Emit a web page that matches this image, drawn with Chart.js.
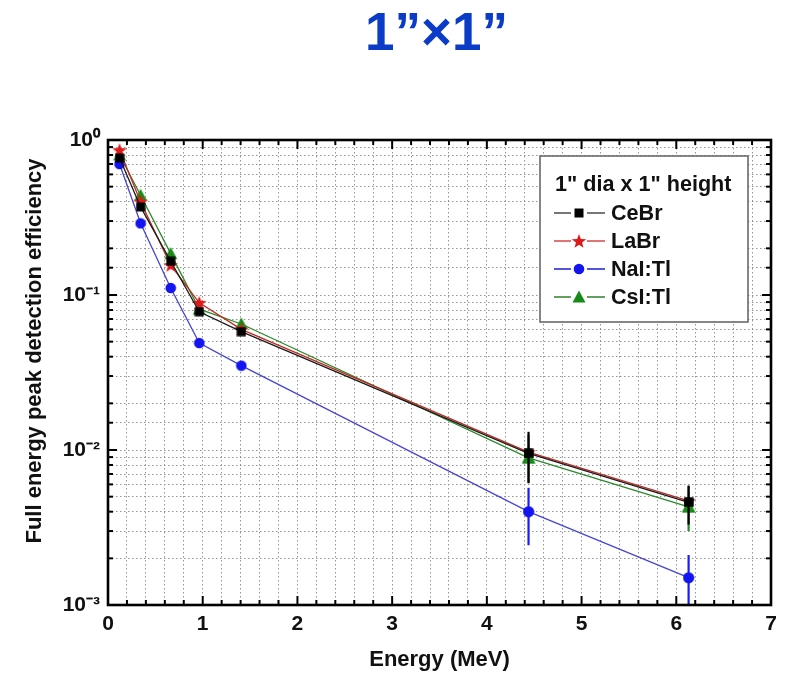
<!DOCTYPE html>
<html><head><meta charset="utf-8">
<script src="https://cdn.jsdelivr.net/npm/chart.js@4/dist/chart.umd.min.js"></script>
<style>html,body{margin:0;padding:0;background:#fff}#wrap{width:788px;height:674px}</style>
</head><body><div id="wrap"><canvas id="c" width="788" height="674"></canvas></div>
<script>
// ---------- data ----------
const chartTitle = '1\u201D\u00D71\u201D';
const legendTitle = '1" dia x 1" height';
const xAxisTitle = 'Energy (MeV)';
const yAxisTitle = 'Full energy peak detection efficiency';
const energies = [0.122, 0.344, 0.662, 0.964, 1.408, 4.44, 6.13];
const seriesNames = ['CeBr', 'LaBr', 'NaI:Tl', 'CsI:Tl'];
const ceBr = [0.765, 0.37, 0.165, 0.078, 0.058, 0.0095, 0.0046];
const laBr = [0.86, 0.40, 0.156, 0.089, 0.060, 0.0097, 0.0047];
const naI  = [0.70, 0.29, 0.111, 0.049, 0.035, 0.0040, 0.0015];
const csI  = [0.80, 0.44, 0.185, 0.081, 0.065, 0.0089, 0.0043];
const ceBrErrLow  = [null, null, null, null, null, 0.0061, 0.0033];
const ceBrErrHigh = [null, null, null, null, null, 0.0131, 0.0059];
const naIErrLow   = [null, null, null, null, null, 0.00243, 0.0008];
const naIErrHigh  = [null, null, null, null, null, 0.0057, 0.0021];
const csIErrLow   = [null, null, null, null, null, 0.0062, 0.0030];
const csIErrHigh  = [null, null, null, null, null, 0.0125, 0.0058];
const xTickLabels = ['0', '1', '2', '3', '4', '5', '6', '7'];
const yTickLabels = ['10\u207B\u00B3', '10\u207B\u00B2', '10\u207B\u00B9', '10\u2070'];

// ---------- marker images ----------
function mk(size, draw) {
  const c = document.createElement('canvas');
  c.width = size; c.height = size;
  const g = c.getContext('2d');
  draw(g, size / 2);
  return c;
}
const mSquare = mk(10, (g) => { g.fillStyle = '#000'; g.fillRect(0.5, 0.5, 9, 9); });
const mStar = mk(16, (g, c) => {
  g.fillStyle = '#e01818'; g.beginPath();
  for (let i = 0; i < 10; i++) {
    const r = i % 2 ? 3.2 : 7.6;
    const a = -Math.PI / 2 + i * Math.PI / 5;
    g.lineTo(c + r * Math.cos(a), c + 0.6 + r * Math.sin(a));
  }
  g.closePath(); g.fill();
});
const mCircle = mk(12, (g, c) => { g.fillStyle = '#1414f0'; g.beginPath(); g.arc(c, c, 5.3, 0, Math.PI * 2); g.fill(); });
const mTri = mk(14, (g) => { g.fillStyle = '#178a17'; g.beginPath(); g.moveTo(7, 0.5); g.lineTo(13.5, 12.5); g.lineTo(0.5, 12.5); g.closePath(); g.fill(); });

const FONT = 'Liberation Sans, Arial, sans-serif';
function pts(arr) { return arr.map((v, i) => ({x: energies[i], y: v})); }

// ---------- plugins ----------
const errBars = {
  id: 'errBars',
  afterDatasetsDraw(chart) {
    const {ctx, chartArea: a, scales: {x, y}} = chart;
    ctx.save();
    ctx.beginPath(); ctx.rect(a.left, a.top, a.width, a.height); ctx.clip();
    const dss = chart.data.datasets;
    for (let i = dss.length - 1; i >= 0; i--) {
      const ds = dss[i];
      if (!ds.errLow) continue;
      ctx.strokeStyle = ds.errColor; ctx.lineWidth = 2.2;
      ds.errLow.forEach((lo, j) => {
        if (lo == null) return;
        const px = x.getPixelForValue(energies[j]);
        ctx.beginPath();
        ctx.moveTo(px, y.getPixelForValue(lo));
        ctx.lineTo(px, y.getPixelForValue(ds.errHigh[j]));
        ctx.stroke();
      });
      ds.data.forEach((p, j) => {
        if (ds.errLow[j] == null) return;
        const m = ds.pointStyle;
        ctx.drawImage(m, x.getPixelForValue(p.x) - m.width / 2, y.getPixelForValue(p.y) - m.height / 2);
      });
    }
    ctx.restore();
  }
};

const frame = {
  id: 'frame',
  afterDraw(chart) {
    const {ctx, chartArea: a, scales: {x, y}} = chart;
    ctx.save();
    ctx.setLineDash([]);
    ctx.strokeStyle = '#000';
    ctx.lineWidth = 2;
    const ln = (x1, y1, x2, y2) => { ctx.beginPath(); ctx.moveTo(x1, y1); ctx.lineTo(x2, y2); ctx.stroke(); };
    x.ticks.forEach(t => {
      const px = x.getPixelForValue(t.value);
      const major = Math.abs(t.value - Math.round(t.value)) < 1e-6;
      const len = major ? 9 : 5;
      ln(px, a.bottom, px, a.bottom - len);
      ln(px, a.top, px, a.top + len);
    });
    y.ticks.forEach(t => {
      const py = y.getPixelForValue(t.value);
      const l = Math.log10(t.value);
      const major = Math.abs(l - Math.round(l)) < 1e-6;
      const len = major ? 9 : 5;
      ln(a.left, py, a.left + len, py);
      ln(a.right, py, a.right - len, py);
    });
    ctx.lineWidth = 2.6;
    ctx.strokeRect(a.left, a.top, a.width, a.height);

    // chart title (centred over the plot area)
    ctx.fillStyle = '#0b3cc8';
    ctx.font = 'bold 53px ' + FONT;
    ctx.textAlign = 'center'; ctx.textBaseline = 'alphabetic';
    ctx.fillText(chartTitle, (a.left + a.right) / 2 - 3, 50);

    // y axis title
    ctx.save();
    ctx.translate(35, 351);
    ctx.rotate(-Math.PI / 2);
    ctx.fillStyle = '#111';
    ctx.font = 'bold 22px ' + FONT;
    ctx.textAlign = 'center'; ctx.textBaseline = 'middle';
    ctx.fillText(yAxisTitle, 0, 0);
    ctx.restore();

    // legend
    const bx = a.right - 231, by = a.top + 16, bw = 208, bh = 166;
    ctx.fillStyle = '#fff';
    ctx.fillRect(bx, by, bw, bh);
    ctx.strokeStyle = '#6a6a6a'; ctx.lineWidth = 1.6;
    ctx.strokeRect(bx, by, bw, bh);
    ctx.fillStyle = '#111';
    ctx.font = 'bold 21.6px ' + FONT;
    ctx.textBaseline = 'middle'; ctx.textAlign = 'left';
    ctx.fillText(legendTitle, bx + 15, by + 29);
    chart.data.datasets.forEach((ds, i) => {
      const cy = by + 57 + i * 28;
      const mx = bx + 39;
      ctx.strokeStyle = ds.legendLine; ctx.lineWidth = 1.6;
      ln(bx + 14, cy, mx - 8, cy);
      ln(mx + 8, cy, mx + 26, cy);
      const m = ds.pointStyle;
      ctx.drawImage(m, mx - m.width / 2, cy - m.height / 2);
      ctx.fillStyle = '#111';
      ctx.fillText(ds.label, bx + 71, cy + 1);
    });
    ctx.restore();
  }
};

// ---------- chart ----------
function mkSet(label, data, line, marker, legendLine, lo, hi, errColor) {
  return {
    label, data: pts(data), borderColor: line, backgroundColor: line, borderWidth: 1.3,
    pointStyle: marker, pointRadius: 5, pointHoverRadius: 5, tension: 0, fill: false,
    legendLine, errLow: lo, errHigh: hi, errColor
  };
}

new Chart(document.getElementById('c'), {
  type: 'line',
  data: {
    datasets: [
      mkSet(seriesNames[0], ceBr, '#1a1a1a', mSquare, '#555', ceBrErrLow, ceBrErrHigh, '#000'),
      mkSet(seriesNames[1], laBr, '#c02a22', mStar, '#e05050', null, null, null),
      mkSet(seriesNames[2], naI, '#4646d2', mCircle, '#2a2ad0', naIErrLow, naIErrHigh, '#1a1aff'),
      mkSet(seriesNames[3], csI, '#2a8a2a', mTri, '#3a8a3a', csIErrLow, csIErrHigh, '#1f8a1f')
    ]
  },
  options: {
    responsive: false,
    devicePixelRatio: 1,
    animation: false,
    layout: {padding: {left: 0, right: 17, top: 140, bottom: 0}},
    plugins: {
      legend: {display: false},
      tooltip: {enabled: false},
      title: {display: false, text: chartTitle}
    },
    scales: {
      x: {
        type: 'linear', min: 0, max: 7,
        afterFit: (s) => { s.height = 69; },
        ticks: {
          stepSize: 0.2, autoSkip: false, maxRotation: 0, padding: 7,
          color: '#111', font: {family: FONT, size: 21, weight: 'bold'},
          callback: (v) => {
            const r = Math.round(v);
            return Math.abs(v - r) < 1e-6 ? xTickLabels[r] : '';
          }
        },
        grid: {color: '#949494', lineWidth: 1, drawTicks: false},
        border: {display: false, dash: [1.5, 2.5]},
        title: {display: true, text: xAxisTitle, color: '#111',
          font: {family: FONT, size: 22, weight: 'bold'}, padding: {top: 0, bottom: 1}}
      },
      y: {
        type: 'logarithmic', min: 0.001, max: 1,
        afterFit: (s) => { s.width = 108; },
        ticks: {
          autoSkip: false, padding: 8,
          color: '#111', font: {family: FONT, size: 21, weight: 'bold'},
          callback: (v) => {
            const l = Math.log10(v);
            const r = Math.round(l);
            return Math.abs(l - r) < 1e-6 ? yTickLabels[r + 3] : '';
          }
        },
        grid: {color: '#949494', lineWidth: 1, drawTicks: false},
        border: {display: false, dash: [1.5, 2.5]},
        title: {display: false, text: yAxisTitle}
      }
    }
  },
  plugins: [errBars, frame]
});
</script>
</body></html>
